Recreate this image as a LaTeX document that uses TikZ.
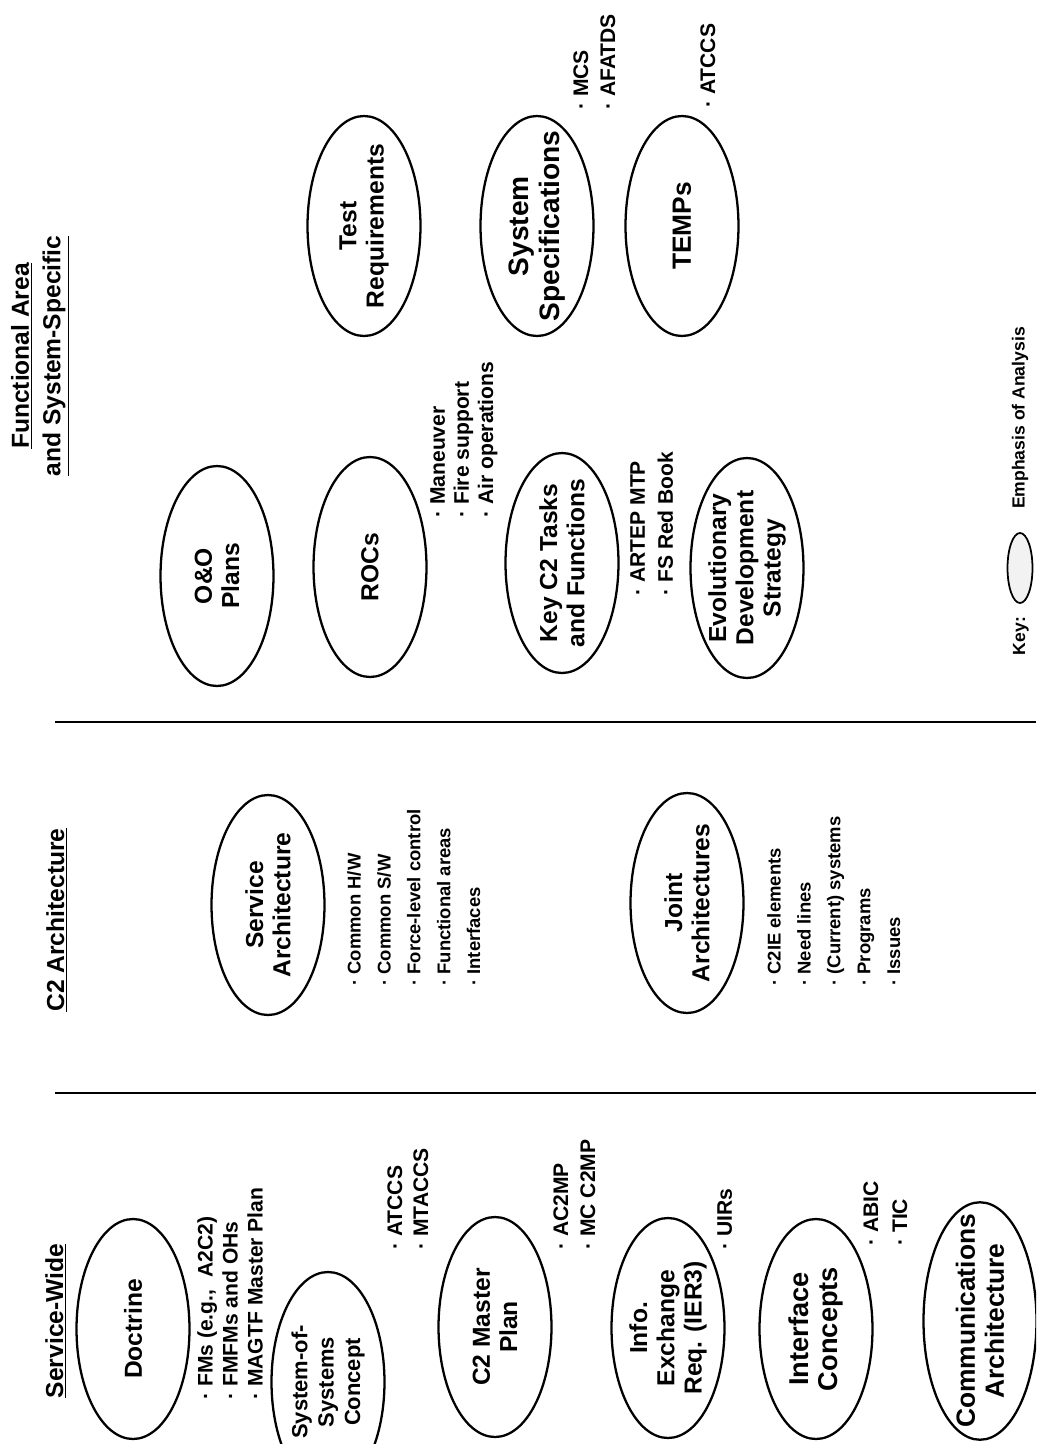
\documentclass[tikz,border=0pt]{standalone}
\usepackage{fontspec}
\setmainfont{Liberation Sans}
\usetikzlibrary{shapes}
\usetikzlibrary{positioning}

\newcommand\ovalfont{\fontsize{14}{15.5}\selectfont\bfseries}
\newcommand\headfont{\fontsize{14}{18}\selectfont\bfseries}

\tikzset{
  oval/.style={draw, ellipse, line width=1.3pt, rotate=90, align=center,
    minimum width=4.4cm, minimum height=2.26cm, inner xsep=-0.6cm, inner ysep=-0.2cm,
    font=\ovalfont},
  items/.style={rotate=90, anchor=north west, inner sep=0pt, align=left,
    font=\fontsize{12}{#1}\selectfont\bfseries},
  heading/.style={rotate=90, align=center, inner sep=0pt, font=\headfont},
  divider/.style={line width=1.6pt}
}

\begin{document}
\begin{tikzpicture}[x=0.02cm, y=-0.02cm]
  \useasboundingbox (0,0) rectangle (1036,1444);
  \clip (0,0) rectangle (1036,1444);

  % column headings
  \node[heading] (hfunc) at (40,356) {\underline{Functional Area}\\\underline{and System-Specific}};
  \node[heading] (hctwo) at (57,920) {\underline{C2 Architecture}};
  \node[heading] (hserv) at (56,1321) {\underline{Service-Wide}};

  \draw[divider] (55,722) -- (1036,722);
  \draw[divider] (55,1093) -- (1036,1093);

  % functional area and system-specific
  \node[oval] (ooplans) at (217,576) {O\&O\\Plans};
  \node[oval] (rocs) at (370,567) {ROCs};
  \node[oval] (keytasks) at (562,563) {Key C2 Tasks\\and Functions};
  \node[oval] (evol) at (747,568) {Evolutionary\\Development\\Strategy};
  \node[oval] (testreq) at (364,226) {Test\\Requirements};
  \node[oval, font=\fontsize{16}{17.5}\selectfont\bfseries] (sysspec) at (537,226) {System\\Specifications};
  \node[oval, font=\fontsize{15}{16}\selectfont\bfseries] (temps) at (682,226) {TEMPs};

  \node[items=13.7pt] (rocitems) at (430,518) {· Maneuver\\· Fire support\\· Air operations};
  \node[items=16pt] (keyitems) at (630,596) {· ARTEP MTP\\· FS Red Book};
  \node[items=15.4pt] (specitems) at (573,110) {· MCS\\· AFATDS};
  \node[items=15pt] (tempitems) at (700,108) {· ATCCS};

  % C2 architecture
  \node[oval] (servarch) at (268,905) {Service\\Architecture};
  \node[oval] (jointarch) at (687,903) {Joint\\Architectures};

  \node[items=17pt, font=\fontsize{10.5}{17}\selectfont\bfseries] (servitems) at (347,986)
    {· Common H/W\\· Common S/W\\· Force-level control\\· Functional areas\\· Interfaces};
  \node[items=17pt, font=\fontsize{10.5}{17}\selectfont\bfseries] (jointitems) at (767,986)
    {· C2IE elements\\· Need lines\\· (Current) systems\\· Programs\\· Issues};

  % service-wide
  \node[oval] (doctrine) at (133,1329) {Doctrine};
  \node[oval, font=\fontsize{12.5}{15}\selectfont\bfseries] (sosys) at (328,1382) {System-of-\\Systems\\Concept};
  \node[oval] (masterplan) at (495,1327) {C2 Master\\Plan};
  \node[oval] (infoex) at (668,1328) {Info.\\Exchange\\Req. (IER3)};
  \node[oval, font=\fontsize{15.5}{17}\selectfont\bfseries] (intcon) at (816,1329) {Interface\\Concepts};
  \node[oval, minimum width=4.75cm, font=\fontsize{15}{16.5}\selectfont\bfseries] (commarch) at (980,1321) {Communications\\Architecture};

  \node[items=14.2pt] (docitems) at (197,1400) {· FMs (e.g.,~ A2C2)\\· FMFMs and OHs\\· MAGTF Master Plan};
  \node[items=14.8pt] (sositems) at (387,1250) {· ATCCS\\· MTACCS};
  \node[items=15.4pt] (mpitems) at (553,1250) {· AC2MP\\· MC C2MP};
  \node[items=15pt] (infoitems) at (717,1250) {· UIRs};
  \node[items=16.5pt] (intitems) at (863,1246) {· ABIC\\· TIC};

  % key
  \node[rotate=90, inner sep=0pt, font=\fontsize{10}{12}\selectfont\bfseries] (keylabel) at (1021,636) {Key:};
  \node[draw, ellipse, rotate=90, line width=1pt, fill=gray!10, inner sep=0pt,
    minimum width=1.4cm, minimum height=0.5cm] (keyoval) at (1020,568) {};
  \node[rotate=90, inner sep=0pt, font=\fontsize{10}{12}\selectfont\bfseries] (keytext) at (1020,418) {Emphasis of Analysis};
\end{tikzpicture}
\end{document}
